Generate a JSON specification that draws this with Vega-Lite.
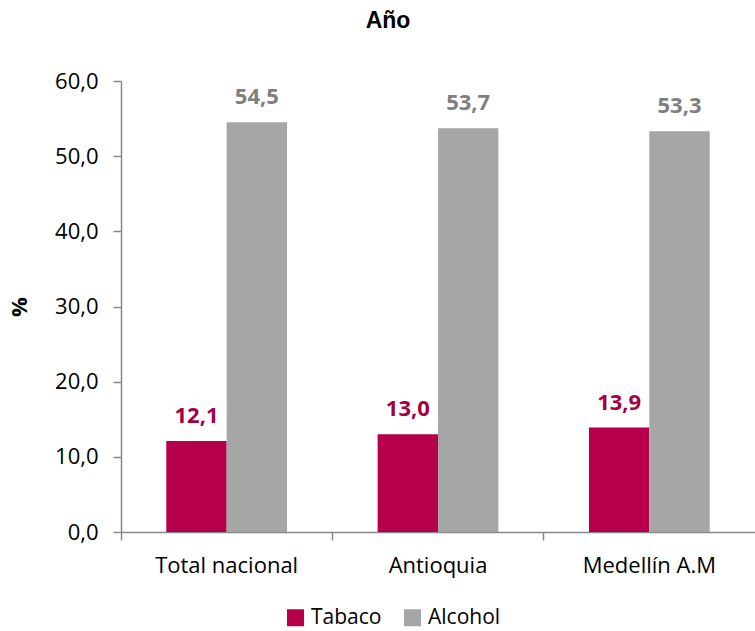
{
  "$schema": "https://vega.github.io/schema/vega-lite/v6.json",
  "width": 634,
  "height": 451,
  "autosize": "none",
  "padding": {"left": 121, "top": 81, "right": 0, "bottom": 99},
  "config": {
    "locale": {"number": {"decimal": ",", "thousands": ".", "grouping": [3], "currency": ["", ""]}},
    "view": {"stroke": null},
    "font": "Open Sans"
  },
  "title": {"text": "Año", "font": "Liberation Sans", "fontSize": 23, "fontWeight": "bold", "color": "#000000", "anchor": "middle", "dx": -50, "offset": 37},
  "data": {"values": [
    {"region": "Total nacional", "tipo": "Tabaco", "valor": 12.1},
    {"region": "Total nacional", "tipo": "Alcohol", "valor": 54.5},
    {"region": "Antioquia", "tipo": "Tabaco", "valor": 13.0},
    {"region": "Antioquia", "tipo": "Alcohol", "valor": 53.7},
    {"region": "Medellín A.M", "tipo": "Tabaco", "valor": 13.9},
    {"region": "Medellín A.M", "tipo": "Alcohol", "valor": 53.3}
  ]},
  "encoding": {
    "x": {"field": "region", "type": "nominal", "sort": ["Total nacional", "Antioquia", "Medellín A.M"],
      "scale": {"paddingInner": 0, "paddingOuter": 0},
      "axis": {"title": null, "labelAngle": 0, "labelFont": "Open Sans", "labelFontSize": 22, "labelColor": "#000000", "bandPosition": 0, "tickSize": 8, "labelPadding": 15, "domainColor": "#888888", "tickColor": "#888888", "domainWidth": 1.5, "tickWidth": 1.5}},
    "xOffset": {"field": "tipo", "type": "nominal", "sort": ["Tabaco", "Alcohol"], "scale": {"paddingInner": 0, "paddingOuter": 0.75}},
    "y": {"field": "valor", "type": "quantitative", "scale": {"domain": [0, 60]},
      "axis": {"title": "%", "titleFont": "Open Sans", "titleFontSize": 22, "titleFontWeight": "bold", "titleColor": "#000000", "titlePadding": 23, "values": [0, 10, 20, 30, 40, 50, 60], "format": ".1f", "grid": false, "labelFont": "Open Sans", "labelFontSize": 22, "labelColor": "#000000", "tickSize": 8, "labelPadding": 15, "domainColor": "#888888", "tickColor": "#888888", "domainWidth": 1.5, "tickWidth": 1.5}}
  },
  "layer": [
    {
      "mark": {"type": "bar"},
      "encoding": {
        "color": {"field": "tipo", "type": "nominal", "sort": ["Tabaco", "Alcohol"],
          "scale": {"domain": ["Tabaco", "Alcohol"], "range": ["#B6004B", "#A6A6A6"]},
          "legend": {"title": null, "orient": "none", "direction": "horizontal", "legendX": 164, "legendY": 526, "symbolType": "square", "symbolSize": 289, "symbolStrokeWidth": 0, "labelFont": "Open Sans", "labelFontSize": 21, "labelColor": "#000000", "columnPadding": 20, "labelOffset": 5}}
      }
    },
    {
      "mark": {"type": "text", "baseline": "alphabetic", "dy": -18, "fontSize": 22, "fontWeight": "bold", "font": "Open Sans"},
      "encoding": {
        "text": {"field": "valor", "type": "quantitative", "format": ".1f"},
        "color": {"field": "tipo", "type": "nominal", "scale": {"domain": ["Tabaco", "Alcohol"], "range": ["#A3003F", "#7F7F7F"]}, "legend": null}
      }
    }
  ],
  "resolve": {"scale": {"color": "independent"}}
}
